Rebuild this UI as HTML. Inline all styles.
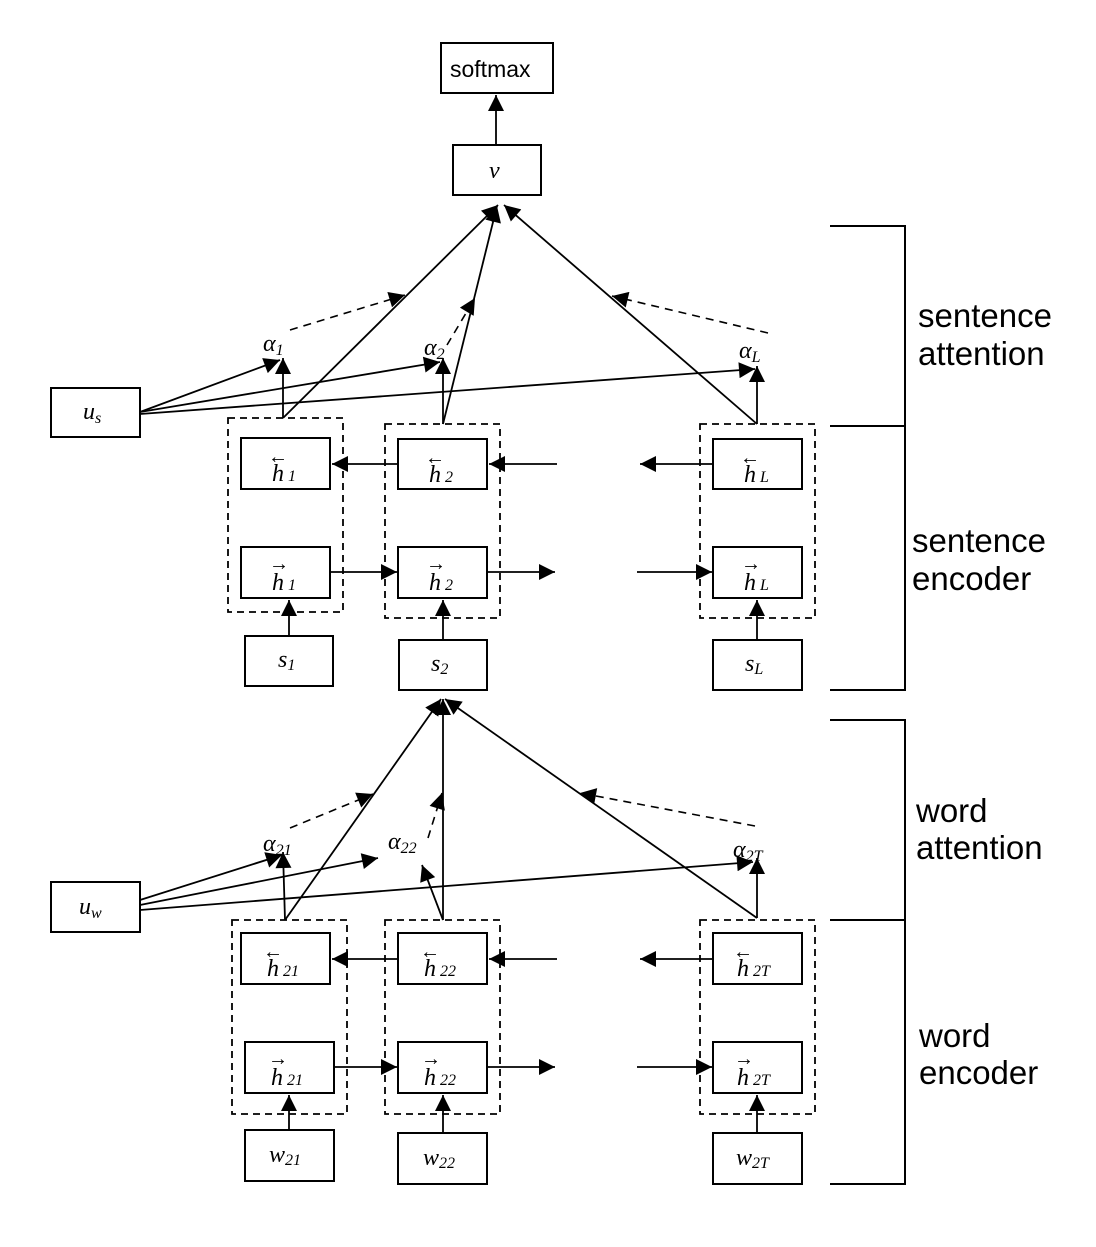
<!DOCTYPE html>
<html><head><meta charset="utf-8"><style>
body{margin:0;background:#fff}
svg text{font-family:"Liberation Serif",serif}
.m{font-style:italic;font-size:24px}
.s{font-style:italic;font-size:16px}
.t{font-family:"Liberation Sans",sans-serif!important;font-size:33px}
.ar{font-size:20px;font-style:normal}
</style></head><body>
<svg width="1096" height="1242" viewBox="0 0 1096 1242" xmlns="http://www.w3.org/2000/svg">
<defs><marker id="b" viewBox="0 0 10 10" refX="10" refY="5" markerWidth="20" markerHeight="16" markerUnits="userSpaceOnUse" orient="auto"><path d="M0,0L10,5L0,10z"/></marker></defs>
<g fill="none" stroke="#000" stroke-width="2">
<rect x="441" y="43" width="112" height="50"/>
<rect x="453" y="145" width="88" height="50"/>
<rect x="51" y="388" width="89" height="49"/>
<rect x="51" y="882" width="89" height="50"/>
<rect x="241" y="438" width="89" height="51"/><rect x="398" y="439" width="89" height="50"/><rect x="713" y="439" width="89" height="50"/>
<rect x="241" y="547" width="89" height="51"/><rect x="398" y="547" width="89" height="51"/><rect x="713" y="547" width="89" height="51"/>
<rect x="245" y="636" width="88" height="50"/><rect x="399" y="640" width="88" height="50"/><rect x="713" y="640" width="89" height="50"/>
<rect x="241" y="933" width="89" height="51"/><rect x="398" y="933" width="89" height="51"/><rect x="713" y="933" width="89" height="51"/>
<rect x="245" y="1042" width="89" height="51"/><rect x="398" y="1042" width="89" height="51"/><rect x="713" y="1042" width="89" height="51"/>
<rect x="245" y="1130" width="89" height="51"/><rect x="398" y="1133" width="89" height="51"/><rect x="713" y="1133" width="89" height="51"/>
</g>
<g fill="none" stroke="#000" stroke-width="1.8" stroke-dasharray="7,5">
<rect x="228" y="418" width="115" height="194"/><rect x="385" y="424" width="115" height="194"/><rect x="700" y="424" width="115" height="194"/>
<rect x="232" y="920" width="115" height="194"/><rect x="385" y="920" width="115" height="194"/><rect x="700" y="920" width="115" height="194"/>
</g>
<g fill="none" stroke="#000" stroke-width="2">
<path d="M830 226H905V690H830M830 426H905"/>
<path d="M830 720H905V1184H830M830 920H905"/>
</g>
<g fill="none" stroke="#000" stroke-width="1.8" marker-end="url(#b)">
<path d="M496 145V95"/>
<path d="M283 418L498 205"/><path d="M443 424L497 206"/><path d="M757 424L504 205"/>
<path d="M283 418V358"/><path d="M443 424V358"/><path d="M757 424V366"/>
<path d="M140 412L280 360"/><path d="M140 412L440 362"/><path d="M140 414L755 369"/>
<path d="M398 464H332"/><path d="M557 464H489"/><path d="M712 464H640"/>
<path d="M330 572H397"/><path d="M487 572H555"/><path d="M637 572H712"/>
<path d="M289 636V600"/><path d="M443 640V600"/><path d="M757 640V600"/>
<path d="M285 920L441 699"/><path d="M443 920V699"/><path d="M757 918L445 699"/>
<path d="M285 920L283 852"/><path d="M443 920L422 865"/><path d="M757 918V858"/>
<path d="M140 900L282 855"/><path d="M140 905L378 858"/><path d="M140 910L753 862"/>
<path d="M398 959H332"/><path d="M557 959H489"/><path d="M712 959H640"/>
<path d="M334 1067H397"/><path d="M487 1067H555"/><path d="M637 1067H712"/>
<path d="M289 1130V1095"/><path d="M443 1133V1095"/><path d="M757 1133V1095"/>
</g>
<g fill="none" stroke="#000" stroke-width="1.6" stroke-dasharray="8,6" marker-end="url(#b)">
<path d="M290 330L405 295"/><path d="M447 345L475 298"/><path d="M768 333L612 296"/>
<path d="M290 828L373 794"/><path d="M428 838L442 793"/><path d="M755 826L580 793"/>
</g>
<g fill="#000">
<text x="450" y="77" style="font-family:'Liberation Sans',sans-serif;font-size:23px">softmax</text>
<text x="489" y="178" class="m">v</text>
<text x="83" y="419" class="m">u<tspan class="s" dy="4">s</tspan></text>
<text x="79" y="914" class="m">u<tspan class="s" dy="4">w</tspan></text>
<text x="263" y="351" class="m">α<tspan class="s" dy="4">1</tspan></text>
<text x="424" y="355" class="m">α<tspan class="s" dy="4">2</tspan></text>
<text x="739" y="358" class="m">α<tspan class="s" dy="4">L</tspan></text>
<text x="263" y="851" class="m">α<tspan class="s" dy="4">21</tspan></text>
<text x="388" y="849" class="m">α<tspan class="s" dy="4">22</tspan></text>
<text x="733" y="857" class="m">α<tspan class="s" dy="4">2T</tspan></text>
<g class="m">
<text x="272" y="481">h<tspan class="s"> 1</tspan></text><text x="268" y="463" class="ar">←</text>
<text x="429" y="482">h<tspan class="s"> 2</tspan></text><text x="425" y="464" class="ar">←</text>
<text x="744" y="482">h<tspan class="s"> L</tspan></text><text x="740" y="464" class="ar">←</text>
<text x="272" y="590">h<tspan class="s"> 1</tspan></text><text x="269" y="570" class="ar">→</text>
<text x="429" y="590">h<tspan class="s"> 2</tspan></text><text x="426" y="570" class="ar">→</text>
<text x="744" y="590">h<tspan class="s"> L</tspan></text><text x="741" y="570" class="ar">→</text>
<text x="278" y="667">s<tspan class="s" dy="3">1</tspan></text>
<text x="431" y="671">s<tspan class="s" dy="3">2</tspan></text>
<text x="745" y="671">s<tspan class="s" dy="3">L</tspan></text>
<text x="267" y="976">h<tspan class="s"> 21</tspan></text><text x="263" y="958" class="ar">←</text>
<text x="424" y="976">h<tspan class="s"> 22</tspan></text><text x="420" y="958" class="ar">←</text>
<text x="737" y="976">h<tspan class="s"> 2T</tspan></text><text x="733" y="958" class="ar">←</text>
<text x="271" y="1085">h<tspan class="s"> 21</tspan></text><text x="268" y="1065" class="ar">→</text>
<text x="424" y="1085">h<tspan class="s"> 22</tspan></text><text x="421" y="1065" class="ar">→</text>
<text x="737" y="1085">h<tspan class="s"> 2T</tspan></text><text x="734" y="1065" class="ar">→</text>
<text x="269" y="1162">w<tspan class="s" dy="3">21</tspan></text>
<text x="423" y="1165">w<tspan class="s" dy="3">22</tspan></text>
<text x="736" y="1165">w<tspan class="s" dy="3">2T</tspan></text>
</g>
<text x="918" y="327" class="t">sentence</text><text x="918" y="365" class="t">attention</text>
<text x="912" y="552" class="t">sentence</text><text x="912" y="590" class="t">encoder</text>
<text x="916" y="822" class="t">word</text><text x="916" y="859" class="t">attention</text>
<text x="919" y="1047" class="t">word</text><text x="919" y="1084" class="t">encoder</text>
</g>
</svg>
</body></html>
